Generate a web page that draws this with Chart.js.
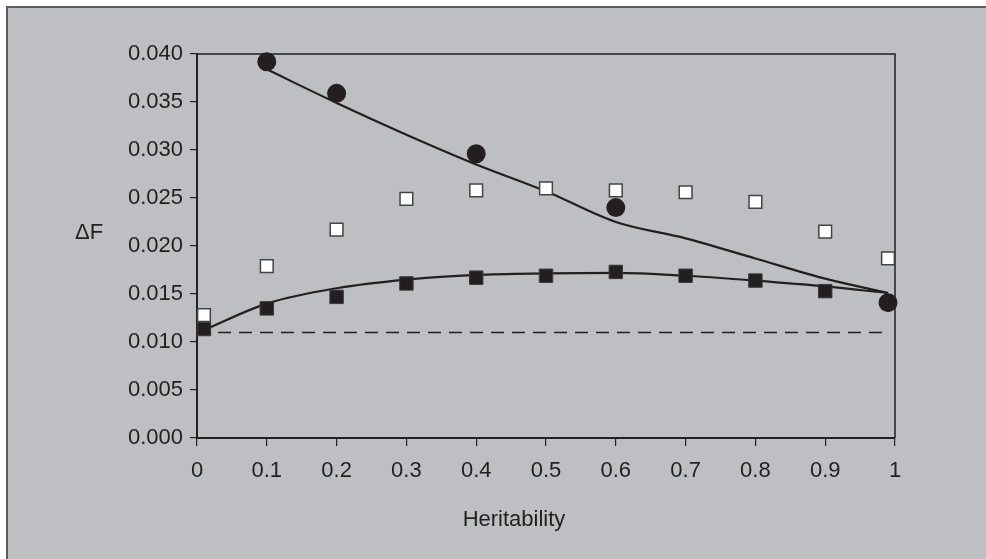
<!DOCTYPE html>
<html>
<head>
<meta charset="utf-8">
<script src="https://cdn.jsdelivr.net/npm/chart.js@4/dist/chart.umd.min.js"></script>
<style>
  html, body { margin: 0; padding: 0; background: #fff; }
  #frame {
    position: absolute; left: 6px; top: 6px; width: 1040px; height: 600px;
    background: #bebfc3; border-left: 2px solid #5e5e60; border-top: 2px solid #5e5e60;
  }
  #wrap { position: absolute; left: 0; top: 0; width: 986px; height: 559px; }
</style>
</head>
<body>
<div id="frame"></div>
<div id="wrap"><canvas id="chart" width="986" height="559"></canvas></div>
<script>
// ── DADOS ───────────────────────────────────────────────────────
const xTicks = [0, 0.1, 0.2, 0.3, 0.4, 0.5, 0.6, 0.7, 0.8, 0.9, 1];

// círculos cheios
const circleH  = [0.1, 0.2, 0.4, 0.6, 0.99];
const circleDF = [0.0392, 0.0359, 0.0296, 0.0240, 0.0141];

// curva ajustada dos círculos
const circleFitH  = [0.1, 0.2, 0.3, 0.4, 0.5, 0.6, 0.7, 0.8, 0.9, 0.99];
const circleFitDF = [0.0384, 0.0349, 0.0316, 0.0285, 0.0257, 0.0225, 0.0208, 0.0187, 0.0166, 0.0151];

// quadrados abertos
const openH  = [0.01, 0.1, 0.2, 0.3, 0.4, 0.5, 0.6, 0.7, 0.8, 0.9, 0.99];
const openDF = [0.0128, 0.0179, 0.0217, 0.0249, 0.0258, 0.0260, 0.0258, 0.0256, 0.0246, 0.0215, 0.0187];

// quadrados cheios
const filledH  = [0.01, 0.1, 0.2, 0.3, 0.4, 0.5, 0.6, 0.7, 0.8, 0.9];
const filledDF = [0.01135, 0.0135, 0.0147, 0.0161, 0.0167, 0.0169, 0.0173, 0.0169, 0.0164, 0.0153];

// curva ajustada dos quadrados cheios
const filledFitH  = [0.01, 0.1, 0.2, 0.3, 0.4, 0.5, 0.6, 0.7, 0.8, 0.9, 0.99];
const filledFitDF = [0.01125, 0.0140, 0.0156, 0.0165, 0.0170, 0.01715, 0.0172, 0.0169, 0.0164, 0.0158, 0.0151];

// linha tracejada de referência
const baseH  = [0, 0.99];
const baseDF = [0.011, 0.011];

const INK  = '#231f20';
const FONT = '"Liberation Sans", Arial, sans-serif';

const pts = (xs, ys) => xs.map((x, i) => ({ x, y: ys[i] }));

// ── PLUGIN: caixa da área do gráfico + rótulos ──────────────────
const framePlugin = {
  id: 'frameBox',
  beforeDatasetsDraw(chart) {
    const { ctx, chartArea: a } = chart;
    ctx.save();
    ctx.strokeStyle = INK;
    ctx.lineWidth = 1.5;
    ctx.beginPath();
    ctx.moveTo(a.left, a.top);
    ctx.lineTo(a.right, a.top);
    ctx.lineTo(a.right, a.bottom);
    ctx.stroke();
    ctx.restore();
  },
  afterDraw(chart) {
    const { ctx, chartArea: a } = chart;
    ctx.save();
    ctx.fillStyle = INK;
    ctx.font = '22px ' + FONT;
    ctx.textBaseline = 'alphabetic';
    ctx.textAlign = 'center';
    ctx.fillText('Heritability', 514, a.bottom + 88);
    ctx.fillText('\u0394F', a.left - 108, a.top + 185);
    ctx.restore();
  }
};

new Chart(document.getElementById('chart'), {
  type: 'scatter',
  data: {
    datasets: [
      {
        label: 'circles', data: pts(circleH, circleDF), order: 1,
        pointStyle: 'circle', pointRadius: 9.5, pointHoverRadius: 9.5,
        backgroundColor: INK, borderColor: INK, borderWidth: 0, clip: false
      },
      {
        label: 'open squares', data: pts(openH, openDF), order: 2,
        pointStyle: 'rect', pointRadius: 9, pointHoverRadius: 9,
        backgroundColor: '#ffffff', borderColor: '#444446', borderWidth: 1.5, clip: false
      },
      {
        label: 'filled squares', data: pts(filledH, filledDF), order: 3,
        pointStyle: 'rect', pointRadius: 9.5, pointHoverRadius: 9.5,
        backgroundColor: INK, borderColor: '#3a3a3c', borderWidth: 1, clip: false
      },
      {
        type: 'line', label: 'circle fit', data: pts(circleFitH, circleFitDF), order: 4,
        showLine: true, pointRadius: 0, borderColor: INK, borderWidth: 2.2,
        cubicInterpolationMode: 'monotone', fill: false
      },
      {
        type: 'line', label: 'square fit', data: pts(filledFitH, filledFitDF), order: 5,
        showLine: true, pointRadius: 0, borderColor: INK, borderWidth: 2.2,
        cubicInterpolationMode: 'monotone', fill: false
      },
      {
        type: 'line', label: 'base', data: pts(baseH, baseDF), order: 6,
        showLine: true, pointRadius: 0, borderColor: INK, borderWidth: 1.5,
        borderDash: [13, 8], fill: false
      }
    ]
  },
  options: {
    responsive: false,
    animation: false,
    events: [],
    layout: { padding: { top: 54, right: 91, left: 0, bottom: 0 } },
    plugins: { legend: { display: false }, tooltip: { enabled: false } },
    scales: {
      x: {
        type: 'linear', min: 0, max: 1,
        afterFit: s => { s.height = 121; },
        afterBuildTicks: s => { s.ticks = xTicks.map(v => ({ value: v })); },
        grid: { drawOnChartArea: false, drawTicks: true, tickLength: 8, color: INK, lineWidth: 1.2 },
        border: { display: true, color: INK, width: 2 },
        ticks: {
          color: INK, font: { family: FONT, size: 22 }, padding: 12, maxRotation: 0,
          callback: v => String(Math.round(v * 10) / 10)
        }
      },
      y: {
        type: 'linear', min: 0, max: 0.04,
        afterFit: s => { s.width = 197; },
        grid: { drawOnChartArea: false, drawTicks: true, tickLength: 7, color: INK, lineWidth: 1.2 },
        border: { display: true, color: INK, width: 2 },
        ticks: {
          stepSize: 0.005, color: INK, font: { family: FONT, size: 22 }, padding: 7,
          callback: v => v.toFixed(3)
        }
      }
    }
  },
  plugins: [framePlugin]
});
</script>
</body>
</html>
